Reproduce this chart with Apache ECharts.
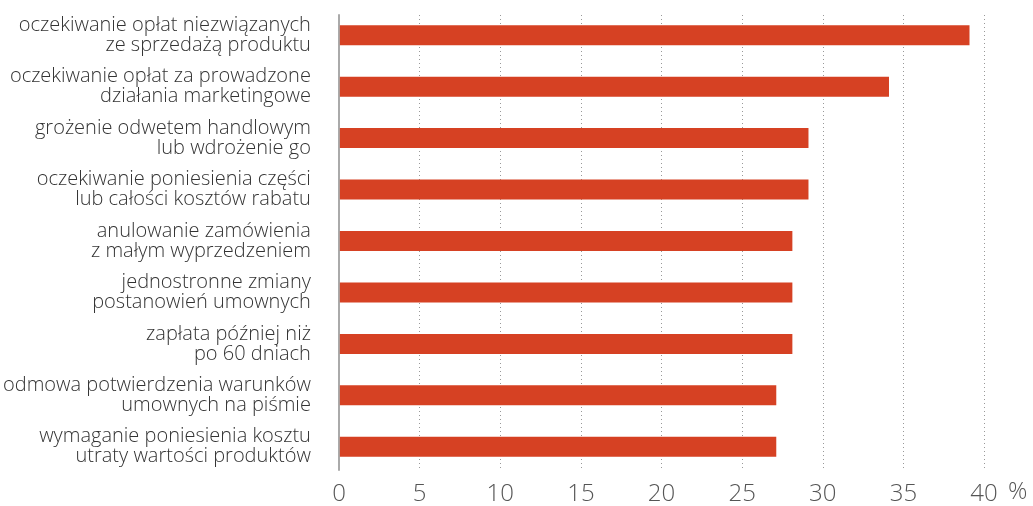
<!DOCTYPE html>
<html>
<head>
<meta charset="utf-8">
<script src="https://cdn.jsdelivr.net/npm/echarts@6/dist/echarts.min.js"></script>
<style>
  html, body { margin: 0; padding: 0; background: #fff; }
  #chart { width: 1033px; height: 506px; }
</style>
</head>
<body>
<div id="chart"></div>
<script>
// kategorie (od góry)
var categories = [
    'oczekiwanie opłat niezwiązanych\nze sprzedażą produktu',
    'oczekiwanie opłat za prowadzone\ndziałania marketingowe',
    'grożenie odwetem handlowym\nlub wdrożenie go',
    'oczekiwanie poniesienia części\nlub całości kosztów rabatu',
    'anulowanie zamówienia\nz małym wyprzedzeniem',
    'jednostronne zmiany\npostanowień umownych',
    'zapłata później niż\npo 60 dniach',
    'odmowa potwierdzenia warunków\numownych na piśmie',
    'wymaganie poniesienia kosztu\nutraty wartości produktów'
];
var values = [39.1, 34.1, 29.1, 29.1, 28.1, 28.1, 28.1, 27.1, 27.1];
var ticks = [0, 5, 10, 15, 20, 25, 30, 35, 40];

var myChart = echarts.init(document.getElementById('chart'));

var option = {
    animation: false,
    grid: [
        // siatka + oś
        { left: 339, right: 49, top: 15, bottom: 28 },
        // słupki
        { left: 339, right: 49, top: 9.5, bottom: 33.5 }
    ],
    xAxis: [
        {
            gridIndex: 0,
            type: 'value',
            min: ticks[0],
            max: ticks[ticks.length - 1],
            interval: 5,
            name: '%',
            nameLocation: 'end',
            nameGap: 24,
            nameTextStyle: {
                color: '#555',
                fontSize: 24,
                fontFamily: 'Open Sans',
                fontWeight: 300,
                verticalAlign: 'top',
                padding: [10, 0, 0, 0]
            },
            axisLine: { show: false },
            axisTick: { show: false },
            axisLabel: {
                color: '#555',
                fontSize: 24,
                fontFamily: 'Open Sans',
                fontWeight: 300,
                margin: 12
            },
            splitLine: {
                show: true,
                lineStyle: { color: '#999', type: [1, 3], width: 1 }
            }
        },
        {
            gridIndex: 1,
            type: 'value',
            min: ticks[0],
            max: ticks[ticks.length - 1],
            show: false
        }
    ],
    yAxis: [
        {
            gridIndex: 0,
            type: 'category',
            data: categories,
            inverse: true,
            axisLine: { show: true, lineStyle: { color: '#aaa', width: 2 } },
            axisTick: { show: false },
            axisLabel: { show: false }
        },
        {
            gridIndex: 1,
            type: 'category',
            data: categories,
            inverse: true,
            axisLine: { show: false },
            axisTick: { show: false },
            axisLabel: {
                color: '#333',
                fontSize: 20,
                fontFamily: 'Open Sans',
                fontWeight: 300,
                lineHeight: 20,
                align: 'right',
                margin: 29
            }
        }
    ],
    series: [{
        type: 'bar',
        xAxisIndex: 1,
        yAxisIndex: 1,
        data: values,
        barWidth: 20,
        itemStyle: { color: '#d64123' }
    }]
};

myChart.setOption(option);
</script>
</body>
</html>
